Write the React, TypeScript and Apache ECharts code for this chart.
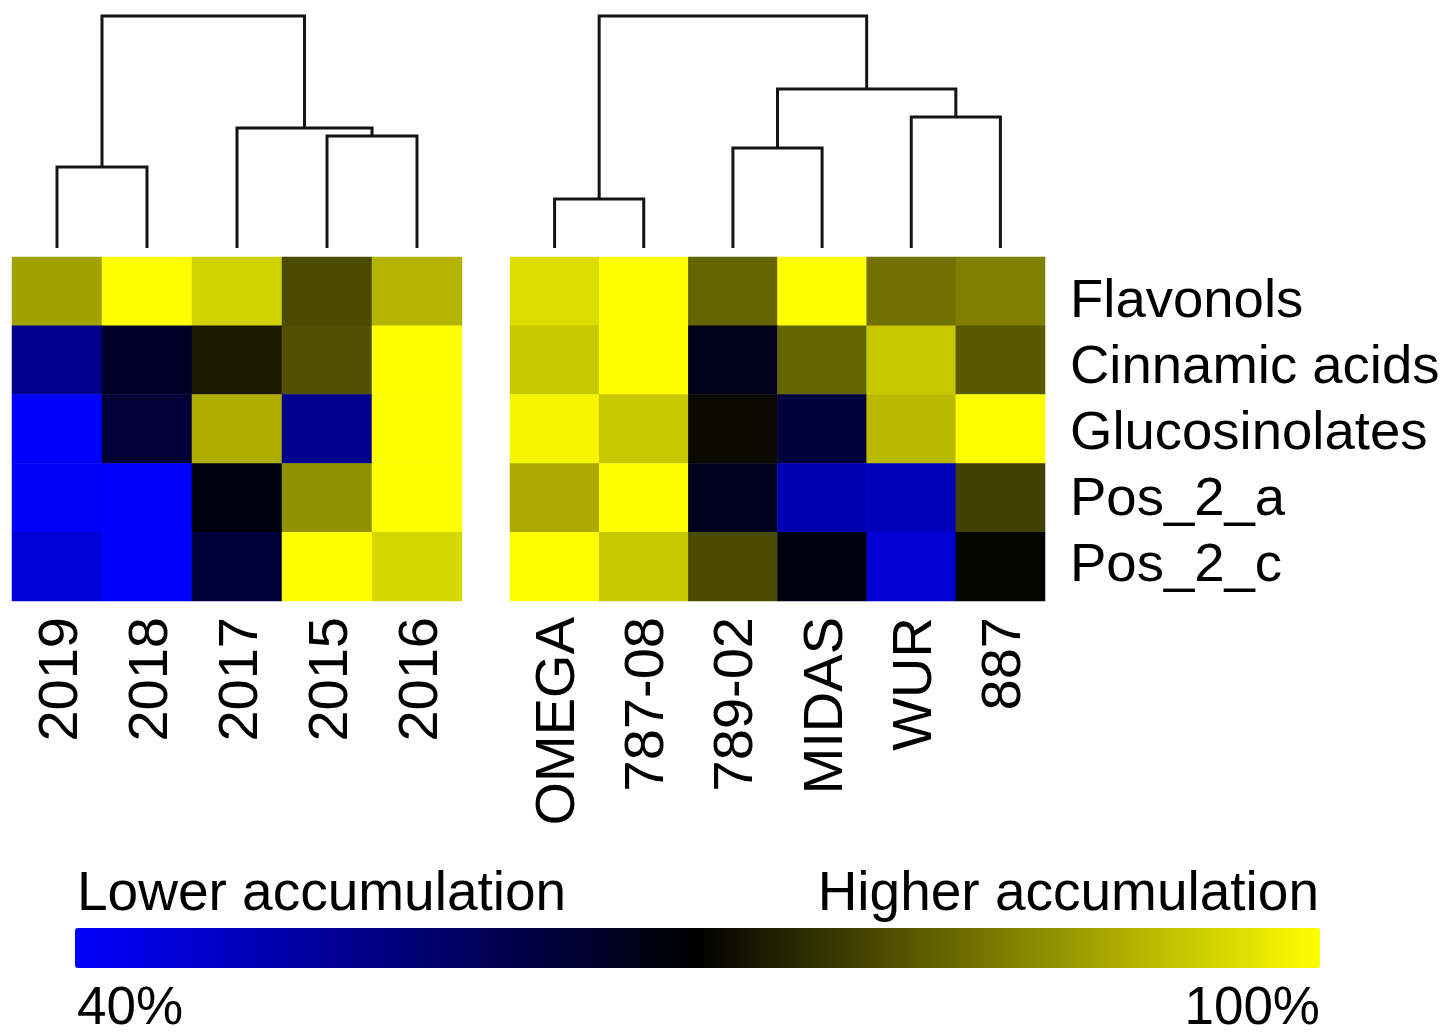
import React, { useEffect, useRef } from "react";
import * as echarts from "echarts";

const compounds = ["Flavonols", "Cinnamic acids", "Glucosinolates", "Pos_2_a", "Pos_2_c"];
const years = ["2019", "2018", "2017", "2015", "2016"];
const cultivars = ["OMEGA", "787-08", "789-02", "MIDAS", "WUR", "887"];

// accumulation (%) per compound (rows) x year (columns)
const yearFlavonols = [88.9, 100, 94.7, 78.8, 91];
const yearCinnamic = [53.5, 65.3, 73, 79.4, 100];
const yearGluco = [40, 63.5, 90.5, 53.5, 100];
const yearPos2a = [41, 40, 68.2, 87, 100];
const yearPos2c = [44.5, 40, 63, 100, 95.3];

// accumulation (%) per compound (rows) x cultivar (columns)
const cultFlavonols = [96, 100, 81.8, 100, 83.3, 85];
const cultCinnamic = [93.5, 100, 67, 81.8, 93.5, 80.5];
const cultGluco = [98.8, 93.5, 71.2, 63, 91.8, 100];
const cultPos2a = [90, 100, 66.5, 49, 48.3, 77.6];
const cultPos2c = [100, 93.5, 78.8, 68.2, 45.3, 70.6];

// dendrogram links: [left node x, right node x, left child height, right child height, join height]
const yearLinks = [
  [0, 1, 0, 0, 3.49],
  [3, 4, 0, 0, 4.83],
  [2, 3.5, 0, 4.83, 5.17],
  [0.5, 2.75, 3.49, 5.17, 10],
];
const cultLinks = [
  [0, 1, 0, 0, 2.11],
  [2, 3, 0, 0, 4.31],
  [4, 5, 0, 0, 5.65],
  [2.5, 4.5, 4.31, 5.65, 6.85],
  [0.5, 3.5, 2.11, 6.85, 10],
];

const scaleMin = 40;
const scaleMax = 100;
const legendLow = "Lower accumulation";
const legendHigh = "Higher accumulation";
const legendMinLabel = "40%";
const legendMaxLabel = "100%";

const FONT = '"Liberation Sans", Arial, Helvetica, sans-serif';

function toCells(rows: number[][]) {
  const out: number[][] = [];
  rows.forEach((row, r) => row.forEach((v, c) => out.push([c, r, v])));
  return out;
}

function dendroRender(params: any, api: any) {
  const xl = api.value(0);
  const xr = api.value(1);
  const hl = api.value(2);
  const hr = api.value(3);
  const hj = api.value(4);
  const pts = [
    api.coord([xl, hl]),
    api.coord([xl, hj]),
    api.coord([xr, hj]),
    api.coord([xr, hr]),
  ];
  return {
    type: "polyline",
    shape: { points: pts },
    style: { stroke: "#141414", lineWidth: 3, fill: null },
  };
}

export default function App() {
  const ref = useRef<HTMLDivElement>(null);
  useEffect(() => {
    if (!ref.current) return;
    const chart = echarts.init(ref.current, undefined, { renderer: "svg" });
    const yearRows = [yearFlavonols, yearCinnamic, yearGluco, yearPos2a, yearPos2c];
    const cultRows = [cultFlavonols, cultCinnamic, cultGluco, cultPos2a, cultPos2c];

    const hiddenAxis = {
      axisLine: { show: false },
      axisTick: { show: false },
      splitLine: { show: false },
    };
    const xLabel = {
      rotate: 90,
      interval: 0,
      fontSize: 56,
      fontFamily: FONT,
      color: "#000",
      margin: 16,
    };
    const legendFont = `55px ${FONT}`;
    const pctFont = `53px ${FONT}`;

    chart.setOption({
      animation: false,
      backgroundColor: "#fff",
      grid: [
        { left: 12, top: 257, width: 450, height: 344 },
        { left: 510, top: 257, width: 535, height: 344 },
        { left: 12, top: 16, width: 450, height: 232 },
        { left: 510, top: 16, width: 535, height: 232 },
        { left: 1000, top: 265, width: 58, height: 330 },
      ],
      xAxis: [
        { type: "category", gridIndex: 0, data: years, ...hiddenAxis, axisLabel: xLabel },
        { type: "category", gridIndex: 1, data: cultivars, ...hiddenAxis, axisLabel: xLabel },
        { type: "value", gridIndex: 2, min: -0.5, max: years.length - 0.5, show: false },
        { type: "value", gridIndex: 3, min: -0.5, max: cultivars.length - 0.5, show: false },
        { type: "value", gridIndex: 4, min: 0, max: 1, show: false },
      ],
      yAxis: [
        { type: "category", gridIndex: 0, data: compounds, inverse: true, ...hiddenAxis, axisLabel: { show: false } },
        { type: "category", gridIndex: 1, data: compounds, inverse: true, ...hiddenAxis, axisLabel: { show: false } },
        { type: "value", gridIndex: 2, min: 0, max: 10, show: false },
        { type: "value", gridIndex: 3, min: 0, max: 10, show: false },
        {
          type: "category",
          gridIndex: 4,
          data: compounds,
          inverse: true,
          position: "right",
          ...hiddenAxis,
          axisLabel: { interval: 0, fontSize: 54.5, fontFamily: FONT, color: "#000", margin: 12, align: "left" },
        },
      ],
      visualMap: {
        type: "continuous",
        seriesIndex: [0, 1],
        min: scaleMin,
        max: scaleMax,
        orient: "horizontal",
        left: 75,
        top: 928,
        itemWidth: 40,
        itemHeight: 1245,
        padding: 0,
        calculable: false,
        hoverLink: false,
        inRange: { color: ["#0000ff", "#000000", "#ffff00"] },
      },
      graphic: [
        {
          type: "text",
          style: { text: legendLow, x: 77, y: 891, font: legendFont, lineHeight: 44, fill: "#000", textAlign: "left", textVerticalAlign: "middle" },
        },
        {
          type: "text",
          style: { text: legendHigh, x: 1319, y: 891, font: legendFont, lineHeight: 44, fill: "#000", textAlign: "right", textVerticalAlign: "middle" },
        },
        {
          type: "text",
          style: { text: legendMinLabel, x: 77, y: 1005, font: pctFont, lineHeight: 40, fill: "#000", textAlign: "left", textVerticalAlign: "middle" },
        },
        {
          type: "text",
          style: { text: legendMaxLabel, x: 1320, y: 1005, font: pctFont, lineHeight: 40, fill: "#000", textAlign: "right", textVerticalAlign: "middle" },
        },
      ],
      series: [
        { type: "heatmap", xAxisIndex: 0, yAxisIndex: 0, data: toCells(yearRows), itemStyle: { borderWidth: 0 } },
        { type: "heatmap", xAxisIndex: 1, yAxisIndex: 1, data: toCells(cultRows), itemStyle: { borderWidth: 0 } },
        {
          type: "custom",
          xAxisIndex: 2,
          yAxisIndex: 2,
          renderItem: dendroRender,
          encode: { x: [0, 1], y: [2, 3, 4] },
          data: yearLinks,
          clip: false,
        },
        {
          type: "custom",
          xAxisIndex: 3,
          yAxisIndex: 3,
          renderItem: dendroRender,
          encode: { x: [0, 1], y: [2, 3, 4] },
          data: cultLinks,
          clip: false,
        },
        { type: "scatter", xAxisIndex: 4, yAxisIndex: 4, data: [], silent: true },
      ],
    });
    return () => chart.dispose();
  }, []);
  return (
    <div
      ref={ref}
      style={{ position: "absolute", left: 0, top: 0, width: 1445, height: 1035 }}
    />
  );
}
